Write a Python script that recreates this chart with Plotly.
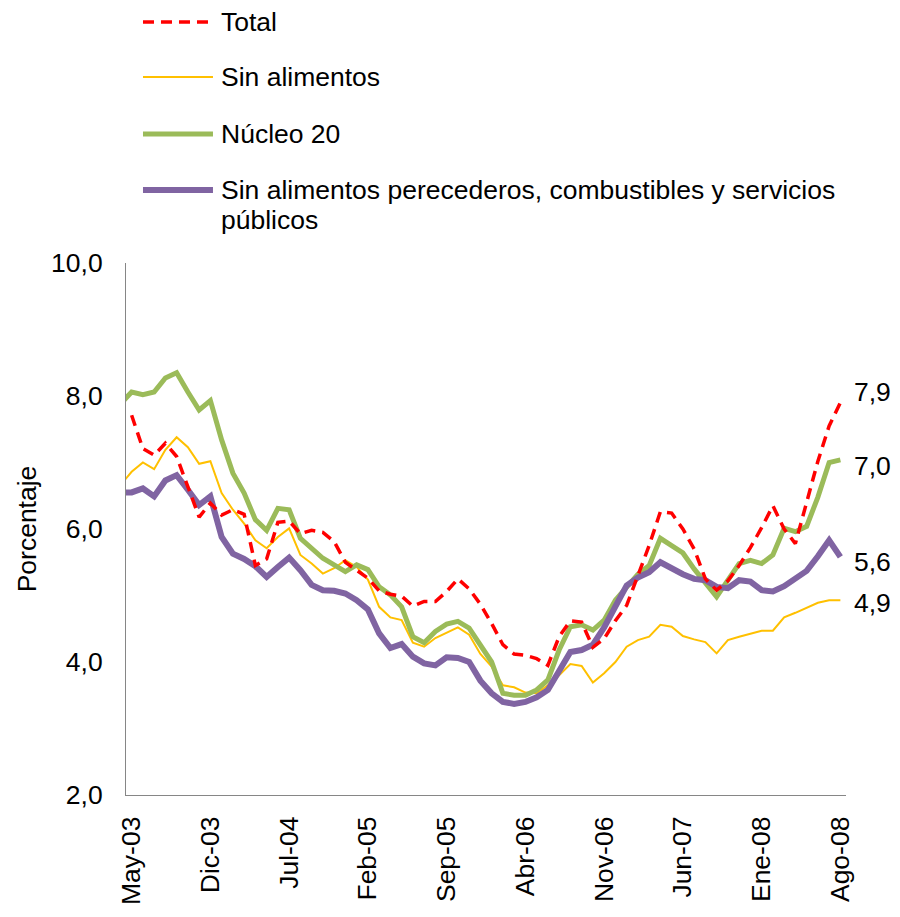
import plotly.graph_objects as go

# monthly categories (Abr-03 sits just left of the axis and is only partly visible)
meses = [
    "Abr-03", "May-03", "Jun-03", "Jul-03", "Ago-03", "Sep-03", "Oct-03", "Nov-03", "Dic-03",
    "Ene-04", "Feb-04", "Mar-04", "Abr-04", "May-04", "Jun-04", "Jul-04", "Ago-04", "Sep-04", "Oct-04", "Nov-04", "Dic-04",
    "Ene-05", "Feb-05", "Mar-05", "Abr-05", "May-05", "Jun-05", "Jul-05", "Ago-05", "Sep-05", "Oct-05", "Nov-05", "Dic-05",
    "Ene-06", "Feb-06", "Mar-06", "Abr-06", "May-06", "Jun-06", "Jul-06", "Ago-06", "Sep-06", "Oct-06", "Nov-06", "Dic-06",
    "Ene-07", "Feb-07", "Mar-07", "Abr-07", "May-07", "Jun-07", "Jul-07", "Ago-07", "Sep-07", "Oct-07", "Nov-07", "Dic-07",
    "Ene-08", "Feb-08", "Mar-08", "Abr-08", "May-08", "Jun-08", "Jul-08", "Ago-08",
]

tick_labels = ["May-03", "Dic-03", "Jul-04", "Feb-05", "Sep-05",
               "Abr-06", "Nov-06", "Jun-07", "Ene-08", "Ago-08"]

# Total: May-03 .. Ago-08
total = [
    7.71, 7.21, 7.11, 7.29, 7.09, 6.64, 6.18, 6.39,
    6.21, 6.29, 6.22, 5.45, 5.55, 6.10, 6.12, 5.93, 5.98, 5.95, 5.81, 5.50,
    5.38, 5.26, 5.07, 5.02, 4.99, 4.84, 4.91, 4.91, 5.06, 5.25, 5.10, 4.87,
    4.58, 4.26, 4.12, 4.10, 4.05, 3.95, 4.38, 4.62, 4.60, 4.22, 4.35, 4.62,
    4.85, 5.30, 5.75, 6.26, 6.24, 6.00, 5.70, 5.25, 5.08, 5.22, 5.45, 5.72,
    6.02, 6.35, 6.00, 5.78, 6.38, 7.02, 7.55, 7.90,
]

# Abr-03 .. Ago-08
sin_alimentos = [
    6.66,
    6.86, 7.00, 6.90, 7.19, 7.38, 7.23, 6.98, 7.02,
    6.54, 6.29, 6.08, 5.83, 5.71, 5.88, 6.01, 5.61, 5.48, 5.33, 5.41, 5.53,
    5.43, 5.24, 4.83, 4.67, 4.63, 4.29, 4.23, 4.36, 4.44, 4.52, 4.41, 4.12,
    3.93, 3.65, 3.62, 3.54, 3.53, 3.65, 3.80, 3.97, 3.94, 3.69, 3.83, 4.00,
    4.23, 4.33, 4.38, 4.56, 4.53, 4.39, 4.34, 4.30, 4.13, 4.33, 4.38, 4.43,
    4.47, 4.47, 4.67, 4.74, 4.82, 4.89, 4.93, 4.93,
]

nucleo_20 = [
    7.88,
    8.06, 8.02, 8.06, 8.27, 8.35, 8.06, 7.79, 7.93,
    7.34, 6.84, 6.54, 6.14, 5.98, 6.31, 6.29, 5.86, 5.71, 5.56, 5.46, 5.36,
    5.46, 5.39, 5.13, 5.01, 4.83, 4.38, 4.29, 4.46, 4.57, 4.61, 4.51, 4.25,
    4.00, 3.53, 3.50, 3.50, 3.58, 3.73, 4.18, 4.53, 4.56, 4.48, 4.63, 4.93,
    5.12, 5.32, 5.45, 5.86, 5.75, 5.64, 5.40, 5.19, 4.98, 5.23, 5.48, 5.53,
    5.48, 5.61, 6.01, 5.96, 6.04, 6.48, 7.00, 7.04,
]

sin_perecederos = [
    6.55,
    6.55, 6.61, 6.49, 6.73, 6.81, 6.59, 6.36, 6.49,
    5.88, 5.63, 5.55, 5.44, 5.28, 5.43, 5.57, 5.38, 5.16, 5.08, 5.07, 5.03,
    4.93, 4.79, 4.43, 4.21, 4.27, 4.08, 3.98, 3.95, 4.07, 4.06, 4.00, 3.72,
    3.53, 3.40, 3.37, 3.40, 3.47, 3.58, 3.88, 4.15, 4.18, 4.26, 4.52, 4.83,
    5.15, 5.27, 5.35, 5.50, 5.40, 5.32, 5.25, 5.23, 5.13, 5.11, 5.23, 5.21,
    5.08, 5.06, 5.14, 5.26, 5.37, 5.59, 5.83, 5.58,
]

FONT = "Arial, Liberation Sans, sans-serif"
SIZE = 26.5
RED_DASH = "11px,7px"

series = [
    # name, x, y, color, width, dash, label yshift
    ("Sin alimentos", meses, sin_alimentos, "#FFC000", 2, "solid", -3),
    ("Núcleo 20", meses, nucleo_20, "#9BBB59", 5, "solid", -6),
    ("Sin alimentos perecederos, combustibles y servicios públicos",
     meses, sin_perecederos, "#8064A2", 6, "solid", -5),
    ("Total", meses[1:], total, "#FF0000", 3.5, RED_DASH, 11),
]

fig = go.Figure()
for name, xs, ys, color, width, dash, _ in series:
    fig.add_trace(go.Scatter(
        x=xs, y=ys, name=name, mode="lines",
        line=dict(color=color, width=width, dash=dash),
        showlegend=False,
    ))

# value labels at the last point
for name, xs, ys, color, width, dash, yshift in series:
    fig.add_annotation(
        x=xs[-1], y=ys[-1], xref="x", yref="y",
        text=f"{ys[-1]:.1f}".replace(".", ","),
        showarrow=False, xanchor="left", yanchor="middle",
        xshift=12, yshift=yshift,
        font=dict(family=FONT, size=SIZE, color="#000000"),
    )

# hand-drawn legend above the plot (paper units: plot is 720 x 532 px)
legend_rows = [
    ("Total", "#FF0000", 3.5, RED_DASH, 1.4530),
    ("Sin alimentos", "#FFC000", 2, "solid", 1.3496),
    ("Núcleo 20", "#9BBB59", 5, "solid", 1.2425),
    ("Sin alimentos perecederos, combustibles y servicios", "#8064A2", 6, "solid", 1.1372),
]
for text, color, width, dash, yp in legend_rows:
    fig.add_shape(type="line", xref="paper", yref="paper",
                  x0=0.0236, x1=0.1208, y0=yp, y1=yp,
                  line=dict(color=color, width=width, dash=dash))
    fig.add_annotation(x=0.1306, y=yp, xref="paper", yref="paper",
                       text=text, showarrow=False, borderpad=0,
                       xanchor="left", yanchor="middle",
                       font=dict(family=FONT, size=SIZE, color="#000000"))
fig.add_annotation(x=0.1306, y=1.0808, xref="paper", yref="paper",
                   text="públicos", showarrow=False, borderpad=0,
                   xanchor="left", yanchor="middle",
                   font=dict(family=FONT, size=SIZE, color="#000000"))

# the page body adds an 8px margin, so the figure is 892 x 909
fig.update_layout(
    width=892, height=909,
    margin=dict(l=118, r=54, t=255, b=122),
    paper_bgcolor="white", plot_bgcolor="white",
    separators=",.",
    font=dict(family=FONT, size=SIZE, color="#000000"),
)
fig.update_xaxes(
    type="category", categoryorder="array", categoryarray=meses,
    range=[0.5, len(meses) - 0.5],
    tickmode="array", tickvals=tick_labels, ticktext=tick_labels,
    tickangle=-90, ticks="", showgrid=False, zeroline=False,
    showline=True, linecolor="#868686", linewidth=1,
    ticklabelstandoff=10,
    tickfont=dict(family=FONT, size=SIZE, color="#000000"),
)
fig.update_yaxes(
    range=[2, 10], tickvals=[2, 4, 6, 8, 10], tickformat=".1f",
    ticks="", showgrid=False, zeroline=False,
    showline=True, linecolor="#868686", linewidth=1,
    ticklabelstandoff=17,
    tickfont=dict(family=FONT, size=SIZE, color="#000000"),
    title=dict(text="Porcentaje", standoff=6,
               font=dict(family=FONT, size=SIZE, color="#000000")),
)

fig.write_html("out.html")
